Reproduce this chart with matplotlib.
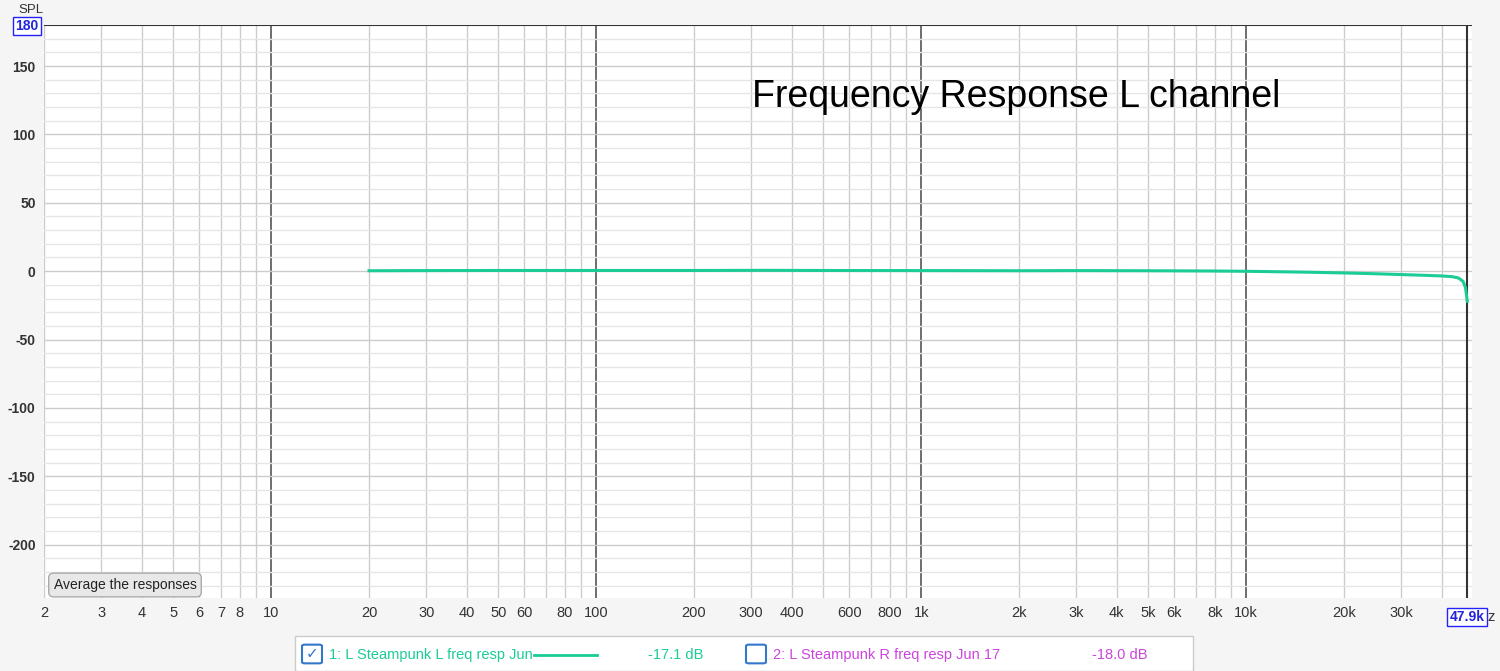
import matplotlib
matplotlib.use("Agg")
import matplotlib.pyplot as plt
import numpy as np
from matplotlib.patches import FancyBboxPatch, Rectangle

plt.rcParams["axes.unicode_minus"] = False
freq = [20, 30, 50, 100, 200, 330, 500, 1000, 2000, 3000, 5000, 8000, 10000, 15000, 20000, 25000, 30000, 35000, 40000, 43000, 45000, 46500, 47300, 47900]
spl = [0.3, 0.4, 0.5, 0.5, 0.5, 0.6, 0.5, 0.4, 0.3, 0.4, 0.3, 0.1, -0.1, -0.7, -1.3, -1.9, -2.5, -3.0, -3.5, -4.0, -5.0, -7.5, -12.0, -22.0]
xticks = [2, 3, 4, 5, 6, 7, 8, 10, 20, 30, 40, 50, 60, 80, 100, 200, 300, 400, 600, 800, 1000, 2000, 3000, 4000, 5000, 6000, 8000, 10000, 20000, 30000]
xlabels = ["2", "3", "4", "5", "6", "7", "8", "10", "20", "30", "40", "50", "60", "80", "100", "200", "300", "400", "600", "800", "1k", "2k", "3k", "4k", "5k", "6k", "8k", "10k", "20k", "30k"]
yticks = [150, 100, 50, 0, -50, -100, -150, -200]

W, H = 1500, 671
fig = plt.figure(figsize=(15, 6.71), dpi=100, facecolor="#f5f5f5")
ax = fig.add_axes([44/W, 1-598/H, (1472-44)/W, (598-25)/H])
ax.set_xscale("log")
ax.set_xlim(2, 2 * 10**((1472-44)/325))
ax.set_ylim(-239, 180)
for d in [1, 10, 100, 1000, 10000]:
    for m in range(1, 10):
        f = d * m
        if 2 <= f <= 50000:
            ax.axvline(f, color="#555555" if m == 1 else "#cccccc", lw=1.2 if m == 1 else 1, zorder=0)
for v in range(-230, 180, 10):
    ax.axhline(v, color="#cccccc" if v % 50 == 0 else "#e6e6e6", lw=1, zorder=0)
ax.axvline(47900, color="#333333", lw=1.5)
ax.axhline(180, color="#333333", lw=1.5)
ax.plot(freq, spl, color="#1bcc96", lw=2.2)
ax.set_xticks(xticks)
ax.set_xticklabels(xlabels, family="Liberation Sans", fontsize=10.5)
ax.xaxis.set_minor_locator(matplotlib.ticker.NullLocator())
ax.set_yticks(yticks)
ax.set_yticklabels([str(v) for v in yticks], family="Liberation Sans", fontsize=10, weight="bold")
ax.tick_params(length=0, colors="#333333", pad=6)
for s in ax.spines.values():
    s.set_visible(False)
ax.text(752/W, 1-97/H, "Frequency Response L channel", transform=fig.transFigure, fontsize=27,
        family="Liberation Sans", va="center")
fig.text(18/W, 1-10/H, "SPL", fontsize=9.5, color="#333333", va="center", family="Liberation Sans")
fig.text(27/W, 1-26/H, "180", fontsize=10, color="#2222dd", ha="center", va="center", weight="bold",
         family="Liberation Sans", bbox=dict(boxstyle="square,pad=0.15", fc="white", ec="#2222ff"))
fig.text(1467/W, 1-617/H, "47.9k", fontsize=10, color="#2222dd", ha="center", va="center", weight="bold",
         family="Liberation Sans", bbox=dict(boxstyle="square,pad=0.15", fc="white", ec="#2222ff"))
fig.text(1487/W, 1-617/H, "z", fontsize=10.5, color="#333333", va="center", family="Liberation Sans")
fig.text(125/W, 1-585/H, "Average the responses", fontsize=10, color="#222222", ha="center", va="center",
         family="Liberation Sans", bbox=dict(boxstyle="round,pad=0.35", fc="#e8e8e8", ec="#aaaaaa"))
fig.patches.append(Rectangle((295/W, 0), (1193-295)/W, 35/H, transform=fig.transFigure, fc="white", ec="#cccccc"))
fig.patches.append(FancyBboxPatch((305/W, 1-662/H), 14/W, 16/H, boxstyle="round,pad=0.002", transform=fig.transFigure, fc="white", ec="#3377cc", lw=1.5))
fig.text(312/W, 1-654/H, "✓", fontsize=11, color="#3377cc", ha="center", va="center", family="DejaVu Sans")
fig.text(329/W, 1-655/H, "1: L Steampunk L freq resp Jun", fontsize=10.5, color="#1bcc96", va="center", family="Liberation Sans")
fig.add_artist(plt.Line2D([534/W, 597/W], [1-655/H, 1-655/H], color="#1bcc96", lw=2))
fig.text(648/W, 1-655/H, "-17.1 dB", fontsize=10.5, color="#1bcc96", va="center", family="Liberation Sans")
fig.patches.append(FancyBboxPatch((749/W, 1-662/H), 14/W, 16/H, boxstyle="round,pad=0.002", transform=fig.transFigure, fc="white", ec="#3377cc", lw=1.5))
fig.text(773/W, 1-655/H, "2: L Steampunk R freq resp Jun 17", fontsize=10.5, color="#cc44dd", va="center", family="Liberation Sans")
fig.text(1092/W, 1-655/H, "-18.0 dB", fontsize=10.5, color="#cc44dd", va="center", family="Liberation Sans")
fig.savefig("out.png", dpi=100, facecolor=fig.get_facecolor())
